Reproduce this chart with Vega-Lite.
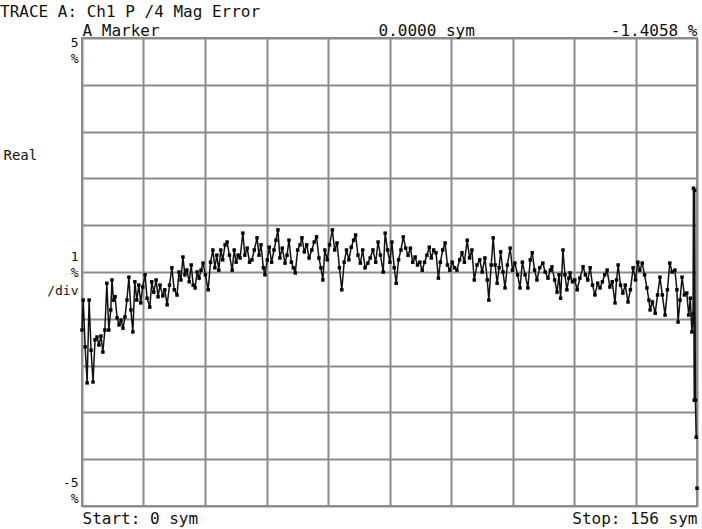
{
  "$schema": "https://vega.github.io/schema/vega-lite/v6.json",
  "width": 615,
  "height": 468,
  "autosize": {"type": "none"},
  "padding": {"left": 82, "top": 38, "right": 5, "bottom": 23},
  "background": "white",
  "config": {
    "font": "DejaVu Sans Mono",
    "view": {"stroke": "#8c8c8c", "strokeWidth": 2},
    "axis": {"labelFont": "DejaVu Sans Mono", "titleFont": "DejaVu Sans Mono", "labelColor": "#111", "titleColor": "#111", "labelFontWeight": "normal", "titleFontWeight": "normal"}
  },
  "title": {"text": "TRACE A: Ch1 P /4 Mag Error", "anchor": "start", "frame": "group", "dx": -82, "dy": 0, "offset": 2, "fontSize": 16, "fontWeight": "normal", "font": "DejaVu Sans Mono", "color": "#111"},
  "data": {"values": [
    {"sym":0.0,"err":-1.24},{"sym":0.3,"err":-0.6},{"sym":0.8,"err":-1.6},{"sym":1.3,"err":-2.37},{"sym":1.8,"err":-0.6},{"sym":2.3,"err":-1.67},{"sym":2.8,"err":-2.35},{"sym":3.3,"err":-1.45},{"sym":3.8,"err":-1.39},{"sym":4.3,"err":-1.56},{"sym":4.8,"err":-1.37},{"sym":5.3,"err":-1.71},{"sym":5.8,"err":-1.24},{"sym":6.3,"err":-0.24},{"sym":6.8,"err":-1.24},{"sym":7.3,"err":-0.81},{"sym":7.6,"err":-0.17},{"sym":8.0,"err":-0.6},{"sym":8.4,"err":-0.53},{"sym":8.9,"err":-0.98},{"sym":9.4,"err":-1.13},{"sym":9.9,"err":-1.03},{"sym":10.4,"err":-1.2},{"sym":10.9,"err":-0.96},{"sym":11.4,"err":-0.6},{"sym":11.9,"err":-0.11},{"sym":12.4,"err":-0.81},{"sym":12.9,"err":-1.28},{"sym":13.4,"err":-0.21},{"sym":13.9,"err":-0.6},{"sym":14.4,"err":-0.28},{"sym":14.9,"err":-0.66},{"sym":15.4,"err":-0.32},{"sym":16.0,"err":-0.06},{"sym":16.5,"err":-0.56},{"sym":17.2,"err":-0.75},{"sym":17.7,"err":-0.21},{"sym":18.2,"err":-0.43},{"sym":18.8,"err":-0.17},{"sym":19.3,"err":-0.53},{"sym":19.8,"err":-0.28},{"sym":20.5,"err":-0.51},{"sym":21.0,"err":-0.38},{"sym":21.6,"err":-0.7},{"sym":22.2,"err":-0.28},{"sym":22.8,"err":0.09},{"sym":23.4,"err":-0.38},{"sym":24.1,"err":-0.49},{"sym":24.6,"err":0.0},{"sym":25.1,"err":-0.17},{"sym":25.6,"err":0.32},{"sym":26.1,"err":-0.06},{"sym":26.6,"err":0.04},{"sym":27.2,"err":-0.21},{"sym":27.7,"err":0.15},{"sym":28.2,"err":-0.28},{"sym":28.7,"err":-0.34},{"sym":29.2,"err":0.0},{"sym":29.7,"err":-0.13},{"sym":30.2,"err":0.04},{"sym":30.7,"err":0.19},{"sym":31.3,"err":-0.06},{"sym":32.0,"err":-0.38},{"sym":32.6,"err":0.21},{"sym":33.2,"err":0.47},{"sym":33.7,"err":0.09},{"sym":34.2,"err":0.36},{"sym":34.7,"err":0.04},{"sym":35.2,"err":0.47},{"sym":35.7,"err":0.26},{"sym":36.3,"err":0.58},{"sym":36.8,"err":0.64},{"sym":37.4,"err":0.36},{"sym":38.1,"err":0.04},{"sym":38.6,"err":0.47},{"sym":39.1,"err":0.21},{"sym":39.6,"err":0.36},{"sym":40.1,"err":0.3},{"sym":40.8,"err":0.83},{"sym":41.3,"err":0.36},{"sym":41.9,"err":0.51},{"sym":42.5,"err":0.21},{"sym":43.1,"err":0.26},{"sym":43.7,"err":0.47},{"sym":44.4,"err":0.73},{"sym":44.9,"err":0.36},{"sym":45.4,"err":0.58},{"sym":46.0,"err":0.09},{"sym":46.4,"err":-0.06},{"sym":47.0,"err":0.26},{"sym":47.5,"err":0.53},{"sym":48.1,"err":0.21},{"sym":48.7,"err":0.47},{"sym":49.2,"err":0.68},{"sym":49.7,"err":0.9},{"sym":50.2,"err":0.3},{"sym":50.8,"err":0.51},{"sym":51.5,"err":0.19},{"sym":52.0,"err":0.36},{"sym":52.5,"err":0.68},{"sym":53.1,"err":0.21},{"sym":53.6,"err":0.09},{"sym":54.1,"err":-0.02},{"sym":54.7,"err":0.47},{"sym":55.3,"err":0.58},{"sym":55.8,"err":0.73},{"sym":56.4,"err":0.43},{"sym":57.0,"err":0.58},{"sym":57.6,"err":0.3},{"sym":58.3,"err":0.47},{"sym":58.9,"err":0.64},{"sym":59.5,"err":0.75},{"sym":60.1,"err":0.3},{"sym":60.6,"err":0.09},{"sym":61.1,"err":-0.17},{"sym":61.6,"err":0.47},{"sym":62.2,"err":0.26},{"sym":62.8,"err":0.58},{"sym":63.5,"err":0.9},{"sym":64.1,"err":0.47},{"sym":64.7,"err":0.62},{"sym":65.3,"err":0.09},{"sym":65.9,"err":-0.38},{"sym":66.5,"err":0.21},{"sym":67.1,"err":0.47},{"sym":67.7,"err":0.26},{"sym":68.3,"err":0.53},{"sym":68.9,"err":0.68},{"sym":69.4,"err":0.79},{"sym":70.0,"err":0.36},{"sym":70.6,"err":0.19},{"sym":71.2,"err":0.47},{"sym":71.8,"err":0.09},{"sym":72.5,"err":0.19},{"sym":73.1,"err":0.3},{"sym":73.8,"err":0.47},{"sym":74.5,"err":0.21},{"sym":75.1,"err":0.64},{"sym":75.7,"err":0.36},{"sym":76.4,"err":0.0},{"sym":76.9,"err":0.83},{"sym":77.5,"err":0.47},{"sym":78.1,"err":0.21},{"sym":78.6,"err":0.64},{"sym":79.2,"err":0.09},{"sym":79.7,"err":-0.24},{"sym":80.3,"err":0.26},{"sym":80.9,"err":0.47},{"sym":81.5,"err":0.75},{"sym":82.1,"err":0.51},{"sym":82.7,"err":0.36},{"sym":83.3,"err":0.51},{"sym":83.9,"err":0.21},{"sym":84.5,"err":0.32},{"sym":85.1,"err":0.15},{"sym":85.7,"err":0.21},{"sym":86.3,"err":0.04},{"sym":86.9,"err":0.21},{"sym":87.5,"err":0.36},{"sym":88.1,"err":0.53},{"sym":88.6,"err":0.3},{"sym":89.2,"err":0.47},{"sym":89.8,"err":0.41},{"sym":90.4,"err":-0.13},{"sym":90.9,"err":0.21},{"sym":91.5,"err":0.47},{"sym":92.1,"err":0.62},{"sym":92.7,"err":0.15},{"sym":93.3,"err":0.04},{"sym":93.9,"err":0.21},{"sym":94.5,"err":0.09},{"sym":95.1,"err":0.04},{"sym":95.8,"err":0.26},{"sym":96.4,"err":0.41},{"sym":97.0,"err":0.21},{"sym":97.7,"err":0.68},{"sym":98.3,"err":0.3},{"sym":98.9,"err":0.47},{"sym":99.5,"err":-0.17},{"sym":100.2,"err":0.15},{"sym":100.9,"err":0.26},{"sym":101.5,"err":0.0},{"sym":102.2,"err":0.3},{"sym":102.8,"err":-0.17},{"sym":103.2,"err":-0.6},{"sym":103.8,"err":0.15},{"sym":104.3,"err":0.73},{"sym":104.8,"err":0.15},{"sym":105.3,"err":-0.24},{"sym":105.8,"err":0.09},{"sym":106.2,"err":0.43},{"sym":106.8,"err":0.0},{"sym":107.3,"err":-0.34},{"sym":107.9,"err":0.15},{"sym":108.6,"err":0.51},{"sym":109.2,"err":0.04},{"sym":109.8,"err":0.19},{"sym":110.5,"err":-0.06},{"sym":111.1,"err":-0.34},{"sym":111.7,"err":0.21},{"sym":112.4,"err":-0.06},{"sym":113.1,"err":-0.34},{"sym":113.7,"err":0.26},{"sym":114.2,"err":0.41},{"sym":114.8,"err":0.04},{"sym":115.4,"err":-0.17},{"sym":116.1,"err":0.09},{"sym":116.9,"err":0.19},{"sym":117.5,"err":0.0},{"sym":118.2,"err":-0.13},{"sym":118.8,"err":0.04},{"sym":119.2,"err":0.11},{"sym":119.9,"err":-0.17},{"sym":120.5,"err":-0.43},{"sym":121.0,"err":-0.06},{"sym":121.4,"err":-0.56},{"sym":122.0,"err":0.47},{"sym":122.5,"err":-0.06},{"sym":123.0,"err":-0.38},{"sym":123.5,"err":-0.13},{"sym":123.8,"err":-0.02},{"sym":124.4,"err":-0.21},{"sym":125.0,"err":-0.17},{"sym":125.6,"err":-0.38},{"sym":126.3,"err":-0.13},{"sym":127.1,"err":0.11},{"sym":127.7,"err":-0.06},{"sym":128.3,"err":-0.17},{"sym":128.9,"err":0.09},{"sym":129.5,"err":-0.28},{"sym":130.1,"err":-0.49},{"sym":130.8,"err":-0.24},{"sym":131.4,"err":-0.34},{"sym":132.0,"err":-0.21},{"sym":132.6,"err":-0.06},{"sym":133.2,"err":0.04},{"sym":133.9,"err":-0.32},{"sym":134.5,"err":-0.21},{"sym":135.2,"err":-0.66},{"sym":135.6,"err":-0.17},{"sym":136.0,"err":0.15},{"sym":136.6,"err":-0.28},{"sym":137.2,"err":-0.45},{"sym":137.8,"err":-0.28},{"sym":138.5,"err":-0.64},{"sym":139.1,"err":-0.38},{"sym":139.8,"err":0.09},{"sym":140.4,"err":-0.17},{"sym":141.0,"err":0.21},{"sym":141.5,"err":0.04},{"sym":142.1,"err":0.19},{"sym":142.7,"err":-0.06},{"sym":143.3,"err":-0.34},{"sym":143.8,"err":-0.6},{"sym":144.1,"err":-0.81},{"sym":144.7,"err":-0.64},{"sym":145.4,"err":-0.88},{"sym":146.0,"err":-0.49},{"sym":146.6,"err":-0.11},{"sym":147.2,"err":-0.49},{"sym":147.9,"err":-0.92},{"sym":148.5,"err":-0.38},{"sym":149.1,"err":0.19},{"sym":149.7,"err":0.0},{"sym":150.4,"err":0.04},{"sym":150.9,"err":-0.38},{"sym":151.2,"err":-1.07},{"sym":151.7,"err":-0.6},{"sym":152.2,"err":-0.11},{"sym":152.8,"err":-0.49},{"sym":153.4,"err":-0.45},{"sym":153.9,"err":-0.92},{"sym":154.3,"err":-0.56},{"sym":154.7,"err":-1.28},{"sym":155.0,"err":-0.9},{"sym":155.1,"err":1.79},{"sym":155.3,"err":-2.74},{"sym":155.4,"err":1.75},{"sym":155.6,"err":-2.74},{"sym":155.8,"err":-3.53},{"sym":156.0,"err":-4.62}
  ]},
  "layer": [
    {
      "transform": [{"filter": "datum.sym < 156"}],
      "mark": {"type": "line", "color": "#111", "strokeWidth": 1.5, "clip": false},
      "encoding": {
        "x": {"field": "sym", "type": "quantitative", "scale": {"domain": [0, 156], "nice": false, "zero": false},
          "axis": {"orient": "bottom", "values": [0, 15.6, 31.2, 46.8, 62.4, 78, 93.6, 109.2, 124.8, 140.4, 156],
            "labelExpr": "datum.value == 0 ? 'Start: 0 sym' : datum.value == 156 ? 'Stop: 156 sym' : ''",
            "labelFlush": true, "labelOverlap": false, "labelFontSize": 16, "labelPadding": 4,
            "ticks": false, "domain": false, "grid": true, "gridColor": "#8c8c8c", "gridWidth": 2, "gridOpacity": 1, "title": null}},
        "y": {"field": "err", "type": "quantitative", "scale": {"domain": [-5, 5], "nice": false, "zero": false},
          "axis": {"orient": "left", "values": [-5, -4, -3, -2, -1, 0, 1, 2, 3, 4, 5], "labels": false,
            "ticks": false, "domain": false, "grid": true, "gridColor": "#8c8c8c", "gridWidth": 2, "gridOpacity": 1, "title": null}}
      }
    },
    {
      "mark": {"type": "point", "shape": "square", "filled": true, "color": "#000", "size": 12, "opacity": 1, "clip": false},
      "encoding": {
        "x": {"field": "sym", "type": "quantitative",
          "axis": {"orient": "top", "values": [0, 87.3, 156],
            "labelExpr": "datum.value == 0 ? 'A Marker' : datum.value == 156 ? '-1.4058 %' : '0.0000 sym'",
            "labelFlush": true, "labelOverlap": false, "labelFontSize": 16, "labelPadding": 0,
            "ticks": false, "domain": false, "grid": false, "title": null}},
        "y": {"field": "err", "type": "quantitative",
          "axis": {"orient": "left", "values": [4.9, 4.56, 0.34, 0, -0.4, -4.5, -4.84],
            "labelExpr": "datum.value == 4.9 ? '5' : datum.value == 0.34 ? '1' : datum.value == -0.4 ? '/div' : datum.value == -4.5 ? '-5' : '%'",
            "labelFontSize": 13, "labelPadding": 4, "labelOverlap": false, "labelFlush": false, "labelBaseline": "middle",
            "ticks": false, "domain": false, "grid": false,
            "title": "Real", "titleAngle": 0, "titleAlign": "left", "titleBaseline": "middle", "titleX": -79, "titleY": 117, "titleFontSize": 14}}
      }
    }
  ],
  "resolve": {"axis": {"x": "independent", "y": "independent"}}
}
